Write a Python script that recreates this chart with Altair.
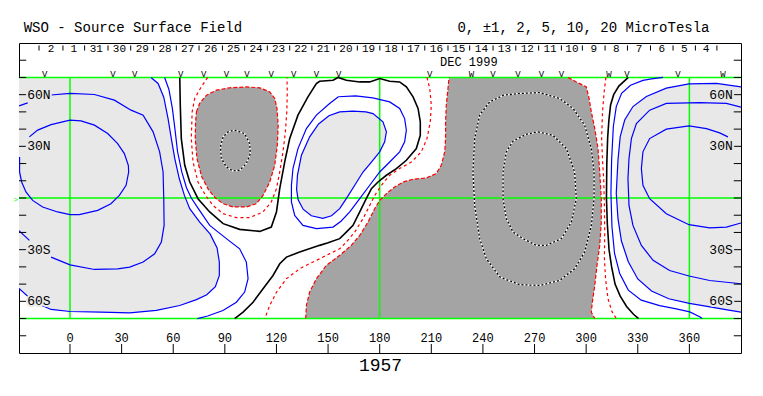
import altair as alt
import pandas as pd

# ---------------- axes / annotation values ----------------
LON_MIN, LON_MAX = -29.64, 390.0
LAT_MIN, LAT_MAX = -90.0, 90.0

x_tick_values = [0, 30, 60, 90, 120, 150, 180, 210, 240, 270, 300, 330, 360]
lat_tick_values = [-80, -70, -60, -50, -40, -30, -20, -10, 0, 10, 20, 30, 40, 50, 60, 70, 80]
lat_label_values = [60, 30, -30, -60]
lat_label_texts = ["60N", "30N", "30S", "60S"]

day_tick_lons = [-18.0, -4.1, 8.5, 22.1, 35.3, 48.6, 61.8, 75.0, 88.6, 101.5, 114.7, 127.7,
                 140.6, 153.8, 167.0, 180.1, 193.2, 206.2, 219.7, 232.3, 245.9, 259.1, 272.4,
                 285.6, 297.8, 311.0, 324.0, 337.4, 350.5, 363.5, 376.0]
day_label_lons = [-11.05, 2.2, 15.3, 28.7, 42.0, 55.2, 68.4, 81.8, 95.05, 108.1, 121.2, 134.15,
                  147.2, 160.4, 173.55, 186.65, 199.7, 212.95, 226.0, 239.1, 252.5, 265.75, 279.0,
                  291.7, 304.4, 317.5, 330.7, 343.95, 357.0, 369.75]
day_labels = ["2", "1", "31", "30", "29", "28", "27", "26", "25", "24", "23", "22", "21", "20",
              "19", "18", "17", "16", "15", "14", "13", "12", "11", "10", "9", "8", "7", "6", "5", "4"]

marker_lons = [-14.7, 25, 37.6, 64.3, 77.7, 90.9, 102.9, 117, 130, 143.2, 156.2, 209, 233.3,
               245.8, 260.4, 274, 285.6, 313.3, 323.7, 353.4, 379.5]
marker_syms = ["V", "V", "V", "V", "V", "V", "V", "V", "V", "V", "V", "V", "W",
               "V", "V", "V", "V", "W", "V", "V", "W"]

title_left = "WSO - Source Surface Field"
title_right = "0, \u00b11, 2, 5, 10, 20 MicroTesla"
month_label = "DEC 1999"
rotation_label = "1957"

# ---------------- contours (lon, lat) ----------------
LB1 = [(47.1, 70), (51.2, 66.5), (54.5, 58.5), (57, 46.1), (58.9, 34.5), (60.9, 22.9), (63.5, 11.3),
       (66.5, 1.5), (69.6, -6.2), (75.4, -14), (81.5, -21), (85.5, -29), (86.8, -37.2), (86.8, -45),
       (84.5, -51.5), (79.5, -56.2), (73.5, -59), (63.8, -62.4), (50.2, -65.3), (34.7, -66.7),
       (18, -66.3), (0, -65.9), (-11, -64.7), (-20.7, -60.5), (-29.64, -52.5)]
LB2 = [(55, 70), (57.5, 63), (59.5, 52), (61, 40), (62.5, 27), (65, 15), (67.7, 6), (70.5, 0),
       (74.5, -6), (81.2, -15.9), (90.9, -23.6), (98.6, -29.5), (102.5, -37.2), (103.5, -46.9),
       (101.5, -54.6), (96.7, -60.5), (88.9, -65.3), (80, -68.5), (74, -70)]
L2_MAIN = [(-11, 59.8), (0, 60.7), (14.2, 60.1), (25.8, 56.8), (35.5, 51), (42.5, 48.1), (48.3, 38.4),
           (52.1, 26.8), (54.1, 15.1), (54.5, -0.4), (54.7, -15.9), (53.1, -25.6), (49.2, -32.4),
           (42.5, -37.2), (34.7, -40.1), (27.7, -41.1), (14.2, -41.5), (0, -38.8), (-11, -34.3)]
L2_TOP = [(-29.64, 53.5), (-24.6, 55.2)]
L2_BOTTOM = [(-23.6, -24.6), (-29.64, -19)]
E1 = [(-23.6, 35.5), (-18.8, 39.4), (-11, 42.6), (0, 45.2), (6.4, 44.8), (14.2, 42.3), (21.9, 37.4),
      (27.7, 31.6), (31.6, 25.8), (33.9, 19), (34.1, 15.1), (32.6, 7.4), (28.7, 1.5), (23.8, -3.3),
      (16.1, -7.2), (5.4, -9.7), (0, -9.7), (-7.2, -8.1), (-15.9, -5.2), (-21.7, -1.4), (-25.6, 3.5),
      (-28.1, 9.3), (-29.3, 15.1), (-29.3, 23.8)]
R1 = [(344.7, 70), (338, 69.2), (333, 68.3), (325.8, 65.5), (320.6, 60.8), (317.5, 53.1), (315.8, 41.5),
      (314.8, 22.1), (314.4, 2.7), (315, -16.7), (316.5, -32.2), (319.5, -43.8), (324.5, -53.5),
      (332, -59.3), (342.7, -62.5), (352.4, -64.4), (360.2, -66.1), (366, -69), (367.5, -70)]
R2 = [(390, 64.5), (375.7, 66.5), (359.8, 66.3), (346.6, 63.8), (335, 58.9), (327.2, 53.1),
      (322.4, 45.3), (319.8, 35.7), (318.5, 22.1), (317.5, 2.7), (318.5, -12), (320.5, -25),
      (324.5, -37), (330, -47), (338, -54), (348, -58.5), (360, -61.2), (372, -63.2), (382, -65),
      (390, -66.3)]
R3 = [(390, 52.8), (381.5, 54.9), (366, 55.4), (346.6, 54.9), (336.9, 51), (329.2, 43.2), (326.3, 34.5),
      (324.9, 22.9), (324.3, 11.3), (324.9, -4.3), (327.2, -15.9), (332.1, -27.5), (338.9, -36.2),
      (348.5, -42.1), (359.8, -45.3), (371.8, -47.9), (390, -49.8)]
R4 = [(382.4, 35.5), (377.6, 37.8), (369.9, 40.3), (359.8, 41.9), (346.6, 40), (336.9, 34.5),
      (333, 26.8), (332.1, 17.1), (333, 7.4), (336.9, -0.4), (346.6, -9.1), (359.8, -15.5),
      (371.8, -17.4), (381.5, -16.9), (390, -14.5)]
I_IN = [(156.75, 50), (164.5, 50.4), (172, 50), (176.1, 49), (181.9, 44.2), (183.9, 38.4), (182.9, 32.6),
        (180, 26.8), (175.2, 20.9), (170.3, 15.1), (165.5, 7.4), (160.6, -0.4), (156.75, -6.2),
        (152, -10.3), (147, -11.8), (140.3, -10.3), (135.5, -6.5), (132.6, -1), (131.7, 5),
        (132.2, 13.2), (134.5, 24.8), (139.3, 35.5), (144.5, 43), (150.5, 47.8), (156.75, 50)]
I_MID = [(156, 58.8), (166, 59.3), (176, 58.1), (185.8, 55.8), (191.6, 52), (194.5, 46.1), (195.5, 39.4),
         (194.5, 32.6), (191.6, 26.8), (185.8, 20.9), (180, 15.1), (174.2, 7.4), (168.4, -0.4),
         (162.6, -8.1), (157.5, -13.5), (152.9, -16.9), (143.2, -17.8), (135.4, -15.9), (130.6, -10.1),
         (128.7, -2.3), (128.7, 7.4), (129.6, 17.1), (132.5, 28.7), (137.4, 40.3), (143.2, 48.1),
         (150.9, 54.9), (156, 58.8)]
B_MAIN = [(63.8, 70), (64.1, 53.9), (64.7, 34.5), (66.7, 19), (69.6, 9.3), (74.4, -0.4), (81.2, -8.1),
          (89, -14.9), (98.6, -18.2), (110.3, -19.4), (117, -16.9), (120, -8.1), (121.9, 5.4),
          (124.8, 21), (127.7, 34.5), (132.5, 48.1), (138.3, 58.7), (143.2, 66.5), (145.1, 67.8),
          (152.9, 68.4), (155.8, 70), (160.6, 68.4), (168.4, 67.4), (174.2, 67.4), (180, 69.4),
          (185.8, 67.8), (191.6, 67.4), (195.5, 64.5), (199.4, 58.7), (202.3, 52), (203.6, 44.2),
          (203.6, 36.4), (201.3, 28.7), (195.5, 21.9), (189.7, 17.1), (183.9, 13.2), (179, 9.3),
          (175.2, 5.4), (172.2, -0.4), (168.4, -8.1), (164.5, -15.9), (160.6, -19.8), (156.75, -23.6),
          (150, -26), (145.1, -27.5), (133.5, -31.4), (125.8, -34.3), (121.9, -38.2), (118, -45),
          (112.2, -52.7), (106.4, -60.5), (100.6, -66.3), (95.7, -70)]
B_RIGHT = [(324.5, 70), (319, 65), (316, 60), (314.2, 54), (313.2, 45), (312.5, 35), (312, 20),
           (311.8, 0), (312.3, -15), (313.3, -30), (314.8, -40), (316.8, -50), (319.8, -57),
           (323.5, -63), (327.5, -67.5), (330.5, -70)]
RD1 = [(80, 70), (76, 64), (72.5, 57.8), (71, 50), (70.5, 34.5), (71.5, 21), (74.4, 9.3), (78.8, 1.5),
       (83.1, -4.3), (89, -9.1), (96.7, -11.4), (104.4, -11.4), (112.2, -8.1), (117, -2.3), (120, 5.4),
       (121.9, 15.1), (123.8, 26.8), (125.2, 38.4), (126, 50), (126.3, 61.6), (126.1, 70)]
RD2 = [(207.5, 70), (209.1, 63.6), (210, 53.9), (209.4, 44.2), (207.5, 34.5), (204.2, 26.8),
       (198.4, 20.9), (191.6, 17.1), (185.8, 13.2), (181, 7.4), (177.1, 1.5), (174.2, -4.3),
       (170.3, -12), (165.5, -19.8), (160.6, -25.6), (156.75, -29.5), (151, -32.3), (145.1, -35.3),
       (139, -38.2), (133.5, -41.1), (125.8, -46.9), (120, -54.7), (116.1, -62.4), (113.2, -70)]
RD3 = [(311.5, 70), (310.5, 62), (309.5, 50), (309, 35), (309.5, 22), (310.2, 11), (310.6, -4),
       (310.8, -20), (310.6, -35), (311.3, -47), (312.7, -58.5), (315, -66), (317.5, -70)]
D1 = [(73.5, 50), (75.4, 55), (79.3, 59.7), (85.1, 62.6), (92.8, 64), (102.5, 64.5), (110.3, 64),
      (116.1, 61.6), (119, 57.8), (120.3, 52), (121, 42.3), (120.5, 30.6), (119, 19), (116.1, 9.3),
      (112.2, 1.5), (108.3, -3.3), (102.5, -5.2), (94.8, -5.2), (89, -3.3), (84.5, 0), (80.5, 4.8),
      (76.5, 12.5), (73.8, 22.9), (72.8, 34.5), (73, 44.2), (73.5, 50)]
D1_RING = [(95.7, 39.4), (101.5, 37.4), (104.4, 31.6), (104.8, 25.8), (102.5, 20), (98.6, 16.1),
           (94.8, 15.7), (90.9, 18), (88, 22.9), (87.4, 29.7), (89, 35.5), (91.9, 38.4), (95.7, 39.4)]
D2_LEFT = [(137, -70), (137.4, -62.4), (139.3, -54.6), (143.2, -46.9), (149, -39.1), (156.8, -33.3),
           (163.5, -27.5), (168.4, -21.7), (173.2, -14), (177.1, -6.2), (180, -1.4), (183.9, 2.5),
           (188.7, 6.4), (193.6, 9.3), (199.4, 10.9), (207.1, 11.6), (212.9, 14.2), (215.8, 19),
           (217.8, 26.8), (218.3, 34.5), (218.3, 44.2), (218.7, 53.9), (219.7, 63.6), (220.3, 70)]
D2_RIGHT = [(289.5, 70), (294.3, 67.4), (300.1, 64.5), (301.7, 57.8), (303, 50), (305, 40.3),
            (306.9, 28.7), (307.9, 15.1), (308.8, -0.4), (308.8, -14), (307.9, -27.5), (306.3, -39.1),
            (305, -50.8), (303.6, -60.5), (303, -66.3), (305, -70)]
D2_RING_OUT = [(234.2, 15), (235.2, 34.5), (238.1, 48.1), (243.9, 55.8), (252, 59.7), (261.4, 60.7),
               (273, 61.2), (284.6, 57.8), (292.4, 52), (299.1, 42.3), (303, 28.7), (304.6, 15.1),
               (304.6, -0.4), (303, -16), (299.1, -31.4), (293.3, -41.1), (284.6, -47.9), (273, -50.8),
               (261.4, -50.3), (250, -46), (242, -35.3), (238.1, -23.6), (235.2, -4.3), (234.2, 15)]
D2_RING_IN = [(272, 38.4), (280.7, 36.4), (288.5, 28.7), (293.3, 15.1), (294.3, -0.4), (291.4, -14),
              (285.6, -23.6), (276.9, -27.5), (271, -27.5), (263.3, -23.6), (257.5, -19.8),
              (253.6, -12), (251.7, -0.4), (251.7, 15.1), (253.6, 26.8), (257.5, 33), (265.2, 37),
              (272, 38.4)]

# ---------------- styling ----------------
LIGHT = "#e8e8e8"
DARK = "#a4a4a4"
BLUE = "#0000ff"
RED = "#ff0000"
GREEN = "#00ff00"
FONT = "Liberation Mono"
TICK_LEN = 4.2  # degrees of longitude for frame ticks

XS = alt.Scale(domain=[LON_MIN, LON_MAX], nice=False, zero=False)
YS = alt.Scale(domain=[LAT_MIN, LAT_MAX], nice=False, zero=False)


def path_df(paths):
    rows = []
    for name, pts in paths.items():
        for i, (lo, la) in enumerate(pts):
            rows.append({"name": name, "i": i, "lon": lo, "lat": la})
    return pd.DataFrame(rows)


def enc(ch):
    return ch.encode(
        x=alt.X("lon:Q", scale=XS, axis=None),
        y=alt.Y("lat:Q", scale=YS, axis=None),
        detail="name:N",
        order=alt.Order("i:Q"),
    )


def lines(paths, **mark):
    return enc(alt.Chart(path_df(paths)).mark_line(clip=True, **mark))


def polys(paths, color):
    return enc(alt.Chart(path_df(paths)).mark_line(clip=True, fill=color, strokeOpacity=0))


def text_layer(df, **mark):
    return alt.Chart(df).mark_text(font=FONT, **mark).encode(
        x=alt.X("lon:Q", scale=XS, axis=None),
        y=alt.Y("lat:Q", scale=YS, axis=None),
        text="t:N",
    )


def hrules(df, **mark):
    return alt.Chart(df).mark_rule(**mark).encode(
        x=alt.X("x0:Q", scale=XS, axis=None), x2="x1:Q",
        y=alt.Y("lat:Q", scale=YS, axis=None))


def vrules(df, **mark):
    return alt.Chart(df).mark_rule(**mark).encode(
        x=alt.X("lon:Q", scale=XS, axis=None),
        y=alt.Y("y0:Q", scale=YS, axis=None), y2="y1:Q")


layers = []

# fills
layers.append(polys({
    "left": [(LON_MIN, 70)] + LB1,
    "right": R2 + [(LON_MAX, -66.3)],
    "island": I_IN,
}, LIGHT))
layers.append(polys({"d1": D1, "d2": D2_LEFT + D2_RIGHT}, DARK))

# green grid
layers.append(hrules(pd.DataFrame({"lat": [70, 0, -70], "x0": LON_MIN, "x1": LON_MAX}),
                     color=GREEN, strokeWidth=1.5))
layers.append(vrules(pd.DataFrame({"lon": [0, 180, 360], "y0": -70, "y1": 70}),
                     color=GREEN, strokeWidth=1.5))

# contour lines
layers.append(lines({"lb1": LB1, "lb2": LB2, "l2": L2_MAIN, "l2t": L2_TOP, "l2b": L2_BOTTOM,
                     "e1": E1, "r1": R1, "r2": R2, "r3": R3, "r4": R4,
                     "iin": I_IN, "imid": I_MID}, color=BLUE, strokeWidth=1.2))
layers.append(lines({"bm": B_MAIN, "br": B_RIGHT}, color="black", strokeWidth=1.6))
layers.append(lines({"rd1": RD1, "rd2": RD2, "rd3": RD3}, color=RED, strokeWidth=1.2,
                    strokeDash=[3, 3]))
layers.append(lines({"d1": D1, "d2l": D2_LEFT, "d2r": D2_RIGHT}, color=RED, strokeWidth=1.2,
                    strokeDash=[4, 2]))
rings = {"d1r": D1_RING, "d2o": D2_RING_OUT, "d2i": D2_RING_IN}
layers.append(lines(rings, color="white", strokeWidth=1.3))
layers.append(lines(rings, color="black", strokeWidth=1.3, strokeDash=[2, 2]))

# frame ticks
layers.append(hrules(pd.DataFrame({"lat": lat_tick_values, "x0": LON_MIN, "x1": LON_MIN + TICK_LEN}),
                     color="black", strokeWidth=1))
layers.append(hrules(pd.DataFrame({"lat": lat_tick_values, "x0": LON_MAX - TICK_LEN, "x1": LON_MAX}),
                     color="black", strokeWidth=1))
layers.append(vrules(pd.DataFrame({"lon": x_tick_values, "y0": -90, "y1": -84.8}),
                     color="black", strokeWidth=1))
layers.append(vrules(pd.DataFrame({"lon": day_tick_lons, "y0": 88.6, "y1": 85.6}),
                     color="black", strokeWidth=1))

# latitude labels (with halo matching the shaded background)
lat_left = pd.DataFrame({"lon": LON_MIN + TICK_LEN + 0.6, "lat": lat_label_values, "t": lat_label_texts})
lat_right = pd.DataFrame({"lon": LON_MAX - TICK_LEN - 0.6, "lat": lat_label_values, "t": lat_label_texts})
for df, al in ((lat_left, "left"), (lat_right, "right")):
    layers.append(text_layer(df, fontSize=13, align=al, baseline="middle", color=LIGHT,
                             stroke=LIGHT, strokeWidth=4))
    layers.append(text_layer(df, fontSize=13, align=al, baseline="middle", color="black"))

# other texts
layers.append(text_layer(pd.DataFrame({"lon": x_tick_values, "lat": -81, "t": [str(v) for v in x_tick_values]}),
                         fontSize=12, align="center", baseline="middle", color="black"))
layers.append(text_layer(pd.DataFrame({"lon": day_label_lons, "lat": 86.6, "t": day_labels}),
                         fontSize=11, align="center", baseline="middle", color="black"))
layers.append(text_layer(pd.DataFrame({"lon": marker_lons, "lat": 71.9, "t": marker_syms}),
                         fontSize=9, align="center", baseline="middle", color="black"))
layers.append(text_layer(pd.DataFrame({"lon": [231.8], "lat": [79.2], "t": [month_label]}),
                         fontSize=12, align="center", baseline="middle", color="black"))
layers.append(text_layer(pd.DataFrame({"lon": [180.5], "lat": [-97.8], "t": [rotation_label]}),
                         fontSize=18, align="center", baseline="middle", color="black"))
layers.append(text_layer(pd.DataFrame({"lon": [-26.9], "lat": [98.8], "t": [title_left]}),
                         fontSize=14, align="left", baseline="middle", color="black"))
layers.append(text_layer(pd.DataFrame({"lon": [371.7], "lat": [98.8], "t": [title_right]}),
                         fontSize=14, align="right", baseline="middle", color="black"))
layers.append(text_layer(pd.DataFrame({"lon": [-31.6], "lat": [-1.0], "t": [">"]}),
                         fontSize=8, align="center", baseline="middle", color=GREEN))

chart = alt.layer(*layers).properties(
    width=722, height=310,
    autosize=alt.AutoSizeParams(type="none"),
    padding={"left": 11, "top": 35, "right": 10, "bottom": 30},
    background="white",
).configure_view(stroke="black", strokeWidth=1)

chart.save("out.html", embed_options={"renderer": "svg", "actions": False})
